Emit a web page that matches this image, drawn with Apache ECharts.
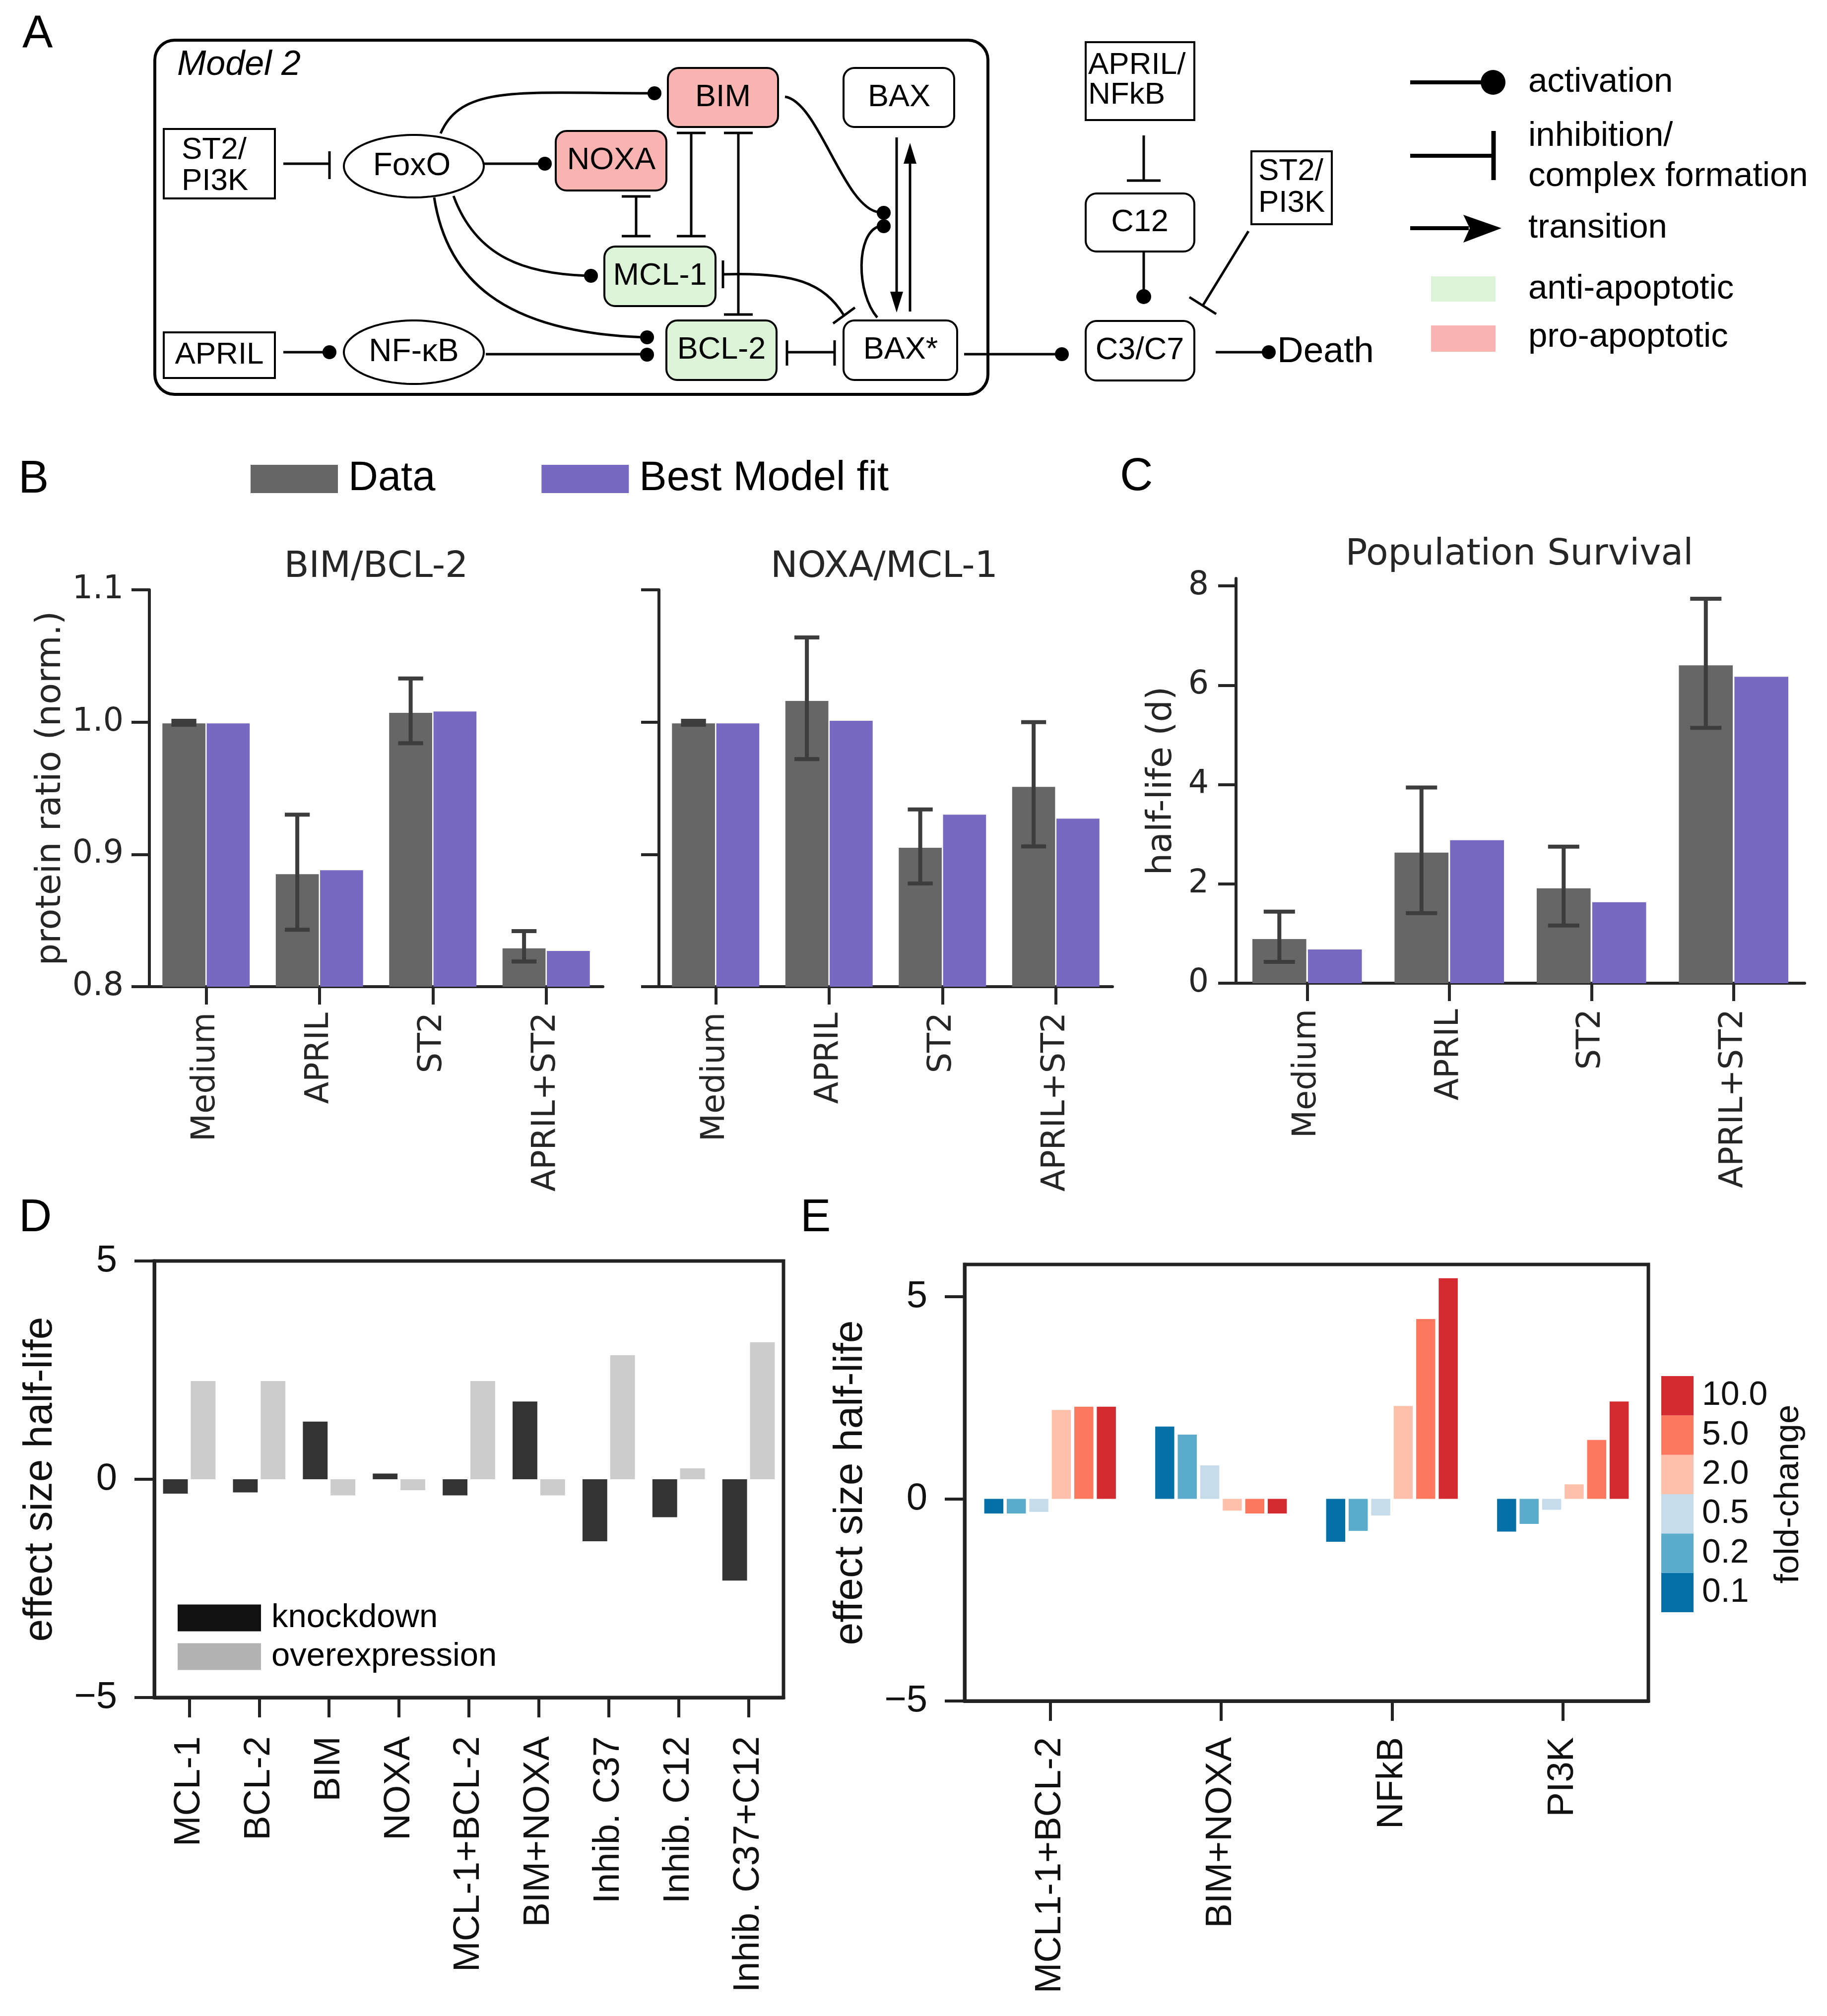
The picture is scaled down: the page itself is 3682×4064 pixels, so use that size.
<!DOCTYPE html>
<html><head><meta charset="utf-8">
<script src="https://cdn.jsdelivr.net/npm/echarts@6/dist/echarts.min.js"></script>
<style>html,body{margin:0;padding:0;background:#fff}#c{width:3682px;height:4064px}</style>
</head><body><div id="c"></div>
<script>
// ---------------- DATA ----------------
const conditions = ['Medium', 'APRIL', 'ST2', 'APRIL+ST2'];
const bimData = [0.999, 0.885, 1.007, 0.829];
const bimErrLow = [0.998, 0.843, 0.984, 0.819];
const bimErrHigh = [1.001, 0.930, 1.033, 0.842];
const bimModel = [0.999, 0.888, 1.008, 0.827];
const noxaData = [0.999, 1.016, 0.905, 0.951];
const noxaErrLow = [0.998, 0.972, 0.878, 0.906];
const noxaErrHigh = [1.001, 1.064, 0.934, 1.000];
const noxaModel = [0.999, 1.001, 0.930, 0.927];
const halfLifeData = [0.89, 2.63, 1.91, 6.40];
const halfLifeErrLow = [0.43, 1.41, 1.16, 5.14];
const halfLifeErrHigh = [1.44, 3.94, 2.75, 7.74];
const halfLifeModel = [0.68, 2.88, 1.63, 6.17];
const ratioTicks = [0.8, 0.9, 1.0, 1.1];
const halfLifeTicks = [0, 2, 4, 6, 8];

const perturbations = ['MCL-1', 'BCL-2', 'BIM', 'NOXA', 'MCL-1+BCL-2', 'BIM+NOXA', 'Inhib. C37', 'Inhib. C12', 'Inhib. C37+C12'];
const knockdown = [-0.33, -0.30, 1.32, 0.13, -0.37, 1.78, -1.42, -0.87, -2.32];
const overexpression = [2.25, 2.25, -0.37, -0.25, 2.25, -0.37, 2.84, 0.25, 3.14];
const effectTicks = [-5, 0, 5];

const targets = ['MCL1-1+BCL-2', 'BIM+NOXA', 'NFkB', 'PI3K'];
const foldChanges = ['0.1', '0.2', '0.5', '2.0', '5.0', '10.0'];
const fc01 = [-0.36, 1.79, -1.06, -0.81];
const fc02 = [-0.36, 1.59, -0.79, -0.62];
const fc05 = [-0.32, 0.83, -0.41, -0.27];
const fc2 = [2.20, -0.29, 2.30, 0.36];
const fc5 = [2.28, -0.36, 4.45, 1.46];
const fc10 = [2.28, -0.36, 5.46, 2.41];
const foldSeries = [fc01, fc02, fc05, fc2, fc5, fc10];
const foldColors = ['#0570a8', '#5aabcc', '#c6dcea', '#fec0ab', '#fe775f', '#d32b30'];

// ---------------- STYLE ----------------
const DV = 'DejaVu Sans';
const LS = 'Liberation Sans';
const gray = '#666666', purple = '#7768c1';
const CAT_GAP = 0.23, BAR_GAP = 0.03;

function errRender(params, api) {
  const idx = api.value(0);
  const lo = api.coord([idx, api.value(1)]);
  const hi = api.coord([idx, api.value(2)]);
  const band = api.size([1, 0])[0];
  const bw = band * (1 - CAT_GAP) / (2 + BAR_GAP);
  const cx = lo[0] - bw * (1 + BAR_GAP) / 2;
  const half = bw * 0.58 / 2;
  const st = { stroke: '#3d3d3d', lineWidth: 8 };
  return { type: 'group', children: [
    { type: 'line', shape: { x1: cx, y1: lo[1], x2: cx, y2: hi[1] }, style: st },
    { type: 'line', shape: { x1: cx - half, y1: hi[1], x2: cx + half, y2: hi[1] }, style: st },
    { type: 'line', shape: { x1: cx - half, y1: lo[1], x2: cx + half, y2: lo[1] }, style: st }
  ]};
}
function errData(lo, hi) { return lo.map((v, i) => [i, v, hi[i]]); }

function seabornX(gi) {
  return { type: 'category', gridIndex: gi, data: conditions,
    axisLine: { onZero: false, lineStyle: { color: '#262626', width: 6 } },
    axisTick: { show: true, alignWithLabel: true, length: 36, lineStyle: { color: '#262626', width: 6 } },
    axisLabel: { rotate: 90, interval: 0, fontFamily: DV, fontSize: 65, color: '#262626', margin: 52 } };
}
function seabornY(gi, opts) {
  return Object.assign({ type: 'value', gridIndex: gi, splitLine: { show: false },
    axisLine: { show: true, lineStyle: { color: '#262626', width: 6 } },
    axisTick: { show: true, length: 36, lineStyle: { color: '#262626', width: 6 } },
    axisLabel: { fontFamily: DV, fontSize: 65, color: '#262626', margin: 52 },
    nameLocation: 'middle', nameTextStyle: { fontFamily: DV, fontSize: 70, color: '#262626' } }, opts);
}
const minus = v => String(v).replace('-', '\u2212');
function boxX(gi, cats, margin) {
  return { type: 'category', gridIndex: gi, data: cats,
    axisLine: { onZero: false, lineStyle: { color: '#222', width: 7 } },
    axisTick: { show: true, alignWithLabel: true, length: 40, lineStyle: { color: '#222', width: 6 } },
    axisLabel: { rotate: 90, interval: 0, fontFamily: LS, fontSize: 74, color: '#111', margin: margin } };
}
function boxY(gi, max) {
  return { type: 'value', gridIndex: gi, min: -5, max: max, interval: 5, splitLine: { show: false },
    axisLine: { show: true, onZero: false, lineStyle: { color: '#222', width: 7 } },
    axisTick: { show: true, length: 40, lineStyle: { color: '#222', width: 6 }, customValues: effectTicks },
    axisLabel: { fontFamily: LS, fontSize: 76, color: '#111', margin: 75, formatter: minus, customValues: effectTicks },
    name: 'effect size half-life', nameLocation: 'middle', nameGap: 189,
    nameTextStyle: { fontFamily: LS, fontSize: 82, color: '#111' } };
}

// ---------------- DIAGRAM (panel A) ----------------
const K = '#000';
function rbox(x, y, w, h, r, fill) { return { type: 'rect', shape: { x, y, width: w, height: h, r }, style: { fill: fill || '#fff', stroke: K, lineWidth: 4 } }; }
function txt(t, x, y, size, extra) { return { type: 'text', z: 10, style: Object.assign({ text: t, x, y, fontSize: size, fontFamily: LS, fill: '#000', textAlign: 'center', verticalAlign: 'middle', textVerticalAlign: 'middle' }, extra || {}) }; }
function ln(x1, y1, x2, y2, w) { return { type: 'line', shape: { x1, y1, x2, y2 }, style: { stroke: K, lineWidth: w || 5 } }; }
function dot(x, y, r) { return { type: 'circle', shape: { cx: x, cy: y, r: r || 14 }, style: { fill: K } }; }
function bez(x1, y1, c1x, c1y, c2x, c2y, x2, y2) { return { type: 'bezierCurve', shape: { x1, y1, cpx1: c1x, cpy1: c1y, cpx2: c2x, cpy2: c2y, x2, y2 }, style: { stroke: K, lineWidth: 5, fill: 'none' } }; }
function ell(cx, cy, rx, ry) {
  const pts = [];
  for (let k = 0; k < 90; k++) { const a = k / 90 * Math.PI * 2; pts.push([cx + rx * Math.cos(a), cy + ry * Math.sin(a)]); }
  return { type: 'polygon', shape: { points: pts }, style: { fill: '#fff', stroke: K, lineWidth: 4 } };
}
function poly(pts) { return { type: 'polygon', shape: { points: pts }, style: { fill: K } }; }
function vInhib2(x, y1, y2) { return [ln(x, y1, x, y2), ln(x - 29, y1, x + 29, y1), ln(x - 29, y2, x + 29, y2)]; }

const pink = '#f9b3b0', green = '#ddf3d8';
const diagram = [
  { type: 'rect', shape: { x: 312, y: 81, width: 1679, height: 714, r: 40 }, style: { fill: 'none', stroke: K, lineWidth: 6 } },
  txt('Model 2', 357, 132, 70, { textAlign: 'left', fontStyle: 'italic' }),
  rbox(330, 260, 224, 140, 0), txt('ST2/', 366, 303, 62, { textAlign: 'left' }), txt('PI3K', 366, 366, 62, { textAlign: 'left' }),
  rbox(330, 670, 224, 92, 0), txt('APRIL', 442, 716, 62),
  ell(834, 335, 141, 63), txt('FoxO', 830, 335, 64),
  ell(834, 710, 141, 64), txt('NF-\u03baB', 834, 710, 64),
  rbox(1346, 137, 222, 119, 22, pink), txt('BIM', 1457, 197, 63),
  rbox(1120, 264, 223, 120, 22, pink), txt('NOXA', 1232, 324, 63),
  rbox(1700, 137, 223, 119, 22), txt('BAX', 1812, 197, 63),
  rbox(1218, 497, 224, 120, 22, green), txt('MCL-1', 1330, 557, 63),
  rbox(1343, 646, 222, 120, 22, green), txt('BCL-2', 1454, 706, 63),
  rbox(1700, 646, 229, 120, 22), txt('BAX*', 1815, 706, 63),
  rbox(2188, 85, 219, 157, 0), txt('APRIL/', 2193, 132, 62, { textAlign: 'left' }), txt('NFkB', 2193, 192, 62, { textAlign: 'left' }),
  rbox(2188, 390, 219, 117, 22), txt('C12', 2297, 449, 63),
  rbox(2522, 305, 162, 147, 0), txt('ST2/', 2536, 346, 62, { textAlign: 'left' }), txt('PI3K', 2536, 410, 62, { textAlign: 'left' }),
  rbox(2188, 647, 219, 120, 22), txt('C3/C7', 2297, 707, 63),
  // ST2/PI3K -| FoxO
  ln(571, 330, 664, 330), ln(664, 305, 664, 361),
  // FoxO -> NOXA
  ln(975, 330, 1090, 330), dot(1098, 330),
  // FoxO -> BIM
  bez(888, 269, 930, 170, 1050, 188, 1310, 188), dot(1319, 188),
  // FoxO -> MCL-1
  bez(914, 395, 960, 520, 1060, 552, 1185, 556), dot(1191, 556),
  // FoxO -> BCL-2
  bez(875, 398, 900, 560, 1010, 670, 1298, 680), dot(1304, 680),
  // APRIL -> NF-kB
  ln(571, 710, 660, 710), dot(664, 710),
  // NF-kB -> BCL-2
  ln(979, 714, 1300, 714), dot(1304, 715),
  // complex formations
  ...vInhib2(1282, 396, 476), ...vInhib2(1393, 268, 476), ...vInhib2(1488, 268, 634),
  // MCL-1 -| BAX*
  ln(1457, 525, 1457, 581), bez(1457, 553, 1600, 548, 1660, 570, 1701, 636), ln(1679, 652, 1723, 620),
  // BCL-2 -| BAX*
  ln(1586, 710, 1682, 710), ln(1586, 686, 1586, 737), ln(1682, 686, 1682, 737),
  // BIM -> activation of BAX
  bez(1582, 195, 1650, 205, 1700, 420, 1772, 428), dot(1781, 429),
  // BAX* auto-activation
  bez(1768, 640, 1725, 590, 1725, 470, 1772, 456), dot(1781, 456),
  // BAX <-> BAX*
  ln(1807, 277, 1807, 600), poly([[1794, 588], [1820, 588], [1807, 630]]),
  ln(1834, 628, 1834, 320), poly([[1821, 330], [1847, 330], [1834, 288]]),
  // BAX* -> C3/C7
  ln(1943, 714, 2132, 714), dot(2140, 714),
  // APRIL/NFkB -| C12
  ln(2305, 273, 2305, 364), ln(2271, 364, 2339, 364),
  // C12 -> C3/C7
  ln(2305, 509, 2305, 590), dot(2305, 598, 15),
  // ST2/PI3K -| C3/C7
  ln(2516, 466, 2424, 616), ln(2397, 599, 2451, 633),
  // C3/C7 -> Death
  ln(2450, 710, 2550, 710), dot(2557, 710),
  txt('Death', 2574, 710, 73, { textAlign: 'left' }),
  // legend of diagram
  ln(2842, 166, 2995, 166, 8), dot(3009, 166, 25),
  ln(2842, 314, 3010, 314, 8), ln(3010, 264, 3010, 363, 9),
  ln(2842, 460, 2960, 460, 8), poly([[2949, 433], [3026, 460], [2949, 489], [2962, 460]]),
  { type: 'rect', shape: { x: 2884, y: 557, width: 130, height: 51 }, style: { fill: '#dcf3d8' } },
  { type: 'rect', shape: { x: 2884, y: 656, width: 130, height: 53 }, style: { fill: pink } },
  txt('activation', 3080, 166, 69, { textAlign: 'left' }),
  txt('inhibition/', 3080, 275, 69, { textAlign: 'left' }),
  txt('complex formation', 3080, 356, 69, { textAlign: 'left' }),
  txt('transition', 3080, 460, 69, { textAlign: 'left' }),
  txt('anti-apoptotic', 3080, 583, 69, { textAlign: 'left' }),
  txt('pro-apoptotic', 3080, 680, 69, { textAlign: 'left' }),
  // panel letters
  txt('A', 45, 71, 92, { textAlign: 'left' }),
  txt('B', 37, 968, 92, { textAlign: 'left' }),
  txt('C', 2257, 963, 92, { textAlign: 'left' }),
  txt('D', 38, 2457, 92, { textAlign: 'left' }),
  txt('E', 1613, 2457, 92, { textAlign: 'left' }),
  // subplot titles
  txt('BIM/BCL-2', 758, 1144, 73, { fontFamily: DV, fill: '#262626' }),
  txt('NOXA/MCL-1', 1782, 1144, 73, { fontFamily: DV, fill: '#262626' }),
  txt('Population Survival', 3062, 1119, 73, { fontFamily: DV, fill: '#262626' })
];

// ---------------- OPTION ----------------
const barCommon = { barCategoryGap: (CAT_GAP * 100) + '%', barGap: (BAR_GAP * 100) + '%' };
const series = [];
[[0, bimData, bimModel, bimErrLow, bimErrHigh], [1, noxaData, noxaModel, noxaErrLow, noxaErrHigh], [2, halfLifeData, halfLifeModel, halfLifeErrLow, halfLifeErrHigh]].forEach(([g, d, m, lo, hi]) => {
  series.push(Object.assign({ type: 'bar', name: 'Data', xAxisIndex: g, yAxisIndex: g, data: d, itemStyle: { color: gray } }, barCommon));
  series.push(Object.assign({ type: 'bar', name: 'Best Model fit', xAxisIndex: g, yAxisIndex: g, data: m, itemStyle: { color: purple } }, barCommon));
  series.push({ type: 'custom', name: 'err' + g, xAxisIndex: g, yAxisIndex: g, data: errData(lo, hi), encode: { x: 0, y: [1, 2] }, renderItem: errRender, z: 5 });
});
series.push({ type: 'bar', name: 'knockdown', xAxisIndex: 3, yAxisIndex: 3, data: knockdown, itemStyle: { color: '#333333' }, barCategoryGap: '25%', barGap: '12%' });
series.push({ type: 'bar', name: 'overexpression', xAxisIndex: 3, yAxisIndex: 3, data: overexpression, itemStyle: { color: '#cccccc' }, barCategoryGap: '25%', barGap: '12%' });
foldSeries.forEach((vals, i) => {
  series.push({ type: 'bar', name: 'fold ' + foldChanges[i], xAxisIndex: 4, yAxisIndex: 4, data: vals, itemStyle: { color: foldColors[i] }, barCategoryGap: '23%', barGap: '18%' });
});
series.push({ type: 'bar', name: 'colorbar', xAxisIndex: 5, yAxisIndex: 5, barCategoryGap: 0,
  data: foldChanges.map((f, i) => ({ value: 1, itemStyle: { color: foldColors[i] } })) });

const option = {
  animation: false,
  backgroundColor: '#fff',
  grid: [
    { left: 301, top: 1189, width: 914, height: 800 },
    { left: 1328, top: 1189, width: 914, height: 800 },
    { left: 2491, top: 1166, width: 1146, height: 816 },
    { left: 311, top: 2542, width: 1268, height: 880, show: true, borderColor: '#222', borderWidth: 7, backgroundColor: 'transparent' },
    { left: 1944, top: 2549, width: 1378, height: 880, show: true, borderColor: '#222', borderWidth: 7, backgroundColor: 'transparent' },
    { left: 3348, top: 2774, width: 65, height: 476 }
  ],
  xAxis: [
    seabornX(0), seabornX(1), seabornX(2),
    boxX(3, perturbations, 78), boxX(4, targets, 73),
    { type: 'value', gridIndex: 5, min: 0, max: 1, show: false }
  ],
  yAxis: [
    seabornY(0, { min: 0.8, max: 1.1, interval: 0.1, startValue: 0.8, axisLabel: { fontFamily: DV, fontSize: 65, color: '#262626', margin: 52, formatter: v => v.toFixed(1), customValues: ratioTicks }, axisTick: { show: true, length: 36, lineStyle: { color: '#262626', width: 6 }, customValues: ratioTicks }, name: 'protein ratio (norm.)', nameGap: 163 }),
    seabornY(1, { min: 0.8, max: 1.1, interval: 0.1, startValue: 0.8, axisLabel: { show: false }, axisTick: { show: true, length: 36, lineStyle: { color: '#262626', width: 6 }, customValues: ratioTicks } }),
    seabornY(2, { min: 0, max: 8.15, interval: 2, axisLabel: { fontFamily: DV, fontSize: 65, color: '#262626', margin: 55, customValues: halfLifeTicks }, axisTick: { show: true, length: 36, lineStyle: { color: '#262626', width: 6 }, customValues: halfLifeTicks }, name: 'half-life (d)', nameGap: 114 }),
    boxY(3, 5), boxY(4, 5.8),
    { type: 'category', gridIndex: 5, data: foldChanges, position: 'right',
      axisLine: { show: false }, axisTick: { show: false },
      axisLabel: { interval: 0, fontFamily: LS, fontSize: 68, color: '#111', margin: 17 },
      name: 'fold-change', nameLocation: 'middle', nameGap: 157,
      nameTextStyle: { fontFamily: LS, fontSize: 69, color: '#111' } }
  ],
  legend: [
    { data: ['Data', 'Best Model fit'], left: 505, top: 924, padding: 0, icon: 'rect', itemWidth: 176, itemHeight: 57, itemGap: 214,
      textStyle: { fontFamily: LS, fontSize: 83, color: '#000', padding: [0, 0, 0, 16] }, selectedMode: false },
    { data: [{ name: 'knockdown', itemStyle: { color: '#111111' } }, { name: 'overexpression', itemStyle: { color: '#b3b3b3' } }],
      orient: 'vertical', left: 358, top: 3228, padding: 0, icon: 'rect', itemWidth: 168, itemHeight: 54, itemGap: 11,
      textStyle: { fontFamily: LS, fontSize: 67, color: '#000', padding: [0, 0, 0, 16] }, selectedMode: false }
  ],
  graphic: { elements: diagram },
  series: series
};

const chart = echarts.init(document.getElementById('c'), null, { renderer: 'canvas', width: 3682, height: 4064 });
chart.setOption(option);
</script>
</body></html>
